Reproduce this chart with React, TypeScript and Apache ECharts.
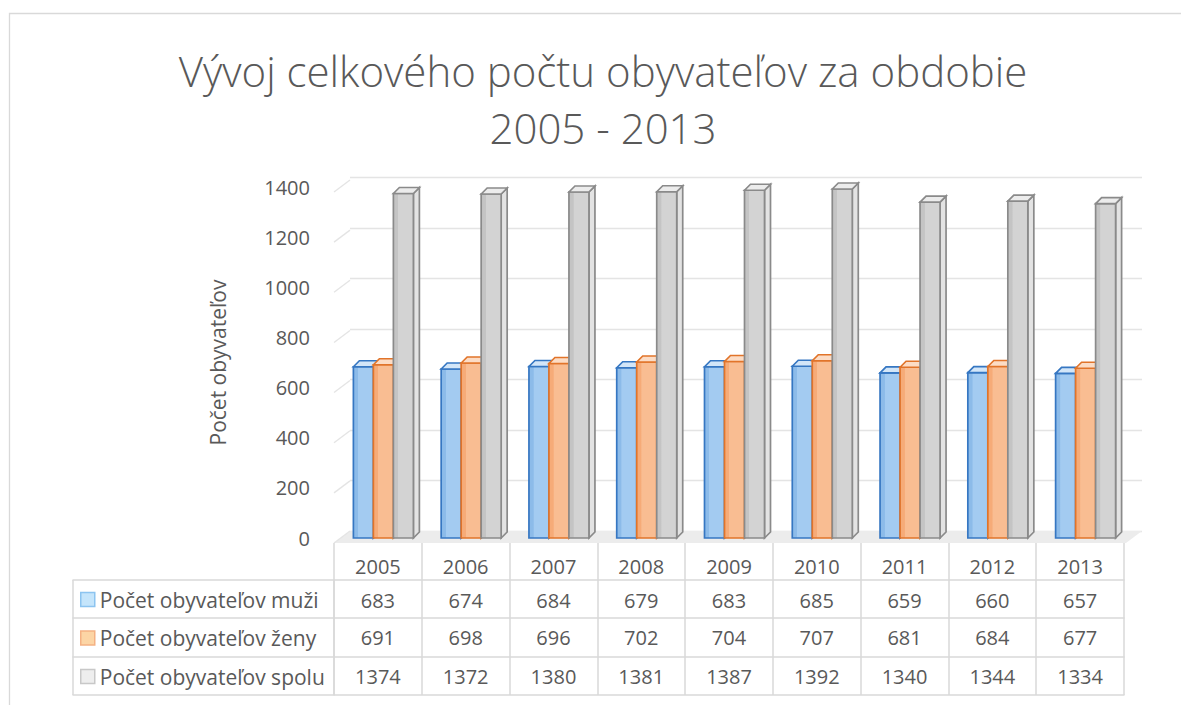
import React, { useEffect, useRef } from "react";
import * as echarts from "echarts";

const years = ["2005", "2006", "2007", "2008", "2009", "2010", "2011", "2012", "2013"];
const men = [683, 674, 684, 679, 683, 685, 659, 660, 657];
const women = [691, 698, 696, 702, 704, 707, 681, 684, 677];
const total = [1374, 1372, 1380, 1381, 1387, 1392, 1340, 1344, 1334];
const seriesNames = ["Počet obyvateľov muži", "Počet obyvateľov ženy", "Počet obyvateľov spolu"];
const yTicks = [0, 200, 400, 600, 800, 1000, 1200, 1400];

const FONT = "Open Sans";
const TXT = "#595959";
const LINE = "#d9d9d9";
const NUM_SIZE = 20;
const TEXT_SIZE = 21;

const barStyles = [
  { front: ["#8cbbe9", "#a3cbf1"], edge: "#3677c2", top: "#d3e6f8", side: "#b9d7f3", legendFill: "#c5e5fb", legendEdge: "#8cc4f0" },
  { front: ["#f6ab78", "#f9bd92"], edge: "#e1742a", top: "#fcdcc5", side: "#fac9a6", legendFill: "#fcd5a5", legendEdge: "#f4b183" },
  { front: ["#c4c4c4", "#d3d3d3"], edge: "#8a8a8a", top: "#ececec", side: "#e3e3e3", legendFill: "#eeeeee", legendEdge: "#c8c8c8" },
];

function makeBar(idx: number, data: number[]) {
  const st = barStyles[idx];
  return {
    type: "custom",
    name: seriesNames[idx],
    xAxisIndex: 0,
    yAxisIndex: 0,
    z: 5 + idx,
    itemStyle: { color: st.legendFill },
    data: data.map((v, i) => [i, v]),
    renderItem: (params: any, api: any) => {
      const c = api.coord([api.value(0), api.value(1)]);
      const b = api.coord([api.value(0), 0]);
      const w = 20;
      const x0 = c[0] - 24.5 + idx * 20;
      const top = c[1];
      const bot = b[1];
      const dx = 6;
      const dy = -6;
      return {
        type: "group",
        children: [
          {
            type: "polygon",
            shape: { points: [[x0 + w, top], [x0 + w + dx, top + dy], [x0 + w + dx, bot + dy], [x0 + w, bot]] },
            style: { fill: st.side, stroke: st.edge, lineWidth: 1.7 },
          },
          {
            type: "rect",
            shape: { x: x0, y: top, width: w, height: bot - top },
            style: {
              fill: {
                type: "linear", x: 0, y: 0, x2: 1, y2: 0,
                colorStops: [
                  { offset: 0, color: st.front[0] },
                  { offset: 0.22, color: st.front[0] },
                  { offset: 0.25, color: st.front[1] },
                  { offset: 1, color: st.front[1] },
                ],
              },
              stroke: st.edge,
              lineWidth: 1.7,
            },
          },
          {
            type: "polygon",
            shape: { points: [[x0, top], [x0 + dx, top + dy], [x0 + w + dx, top + dy], [x0 + w, top]] },
            style: { fill: st.top, stroke: st.edge, lineWidth: 1.7 },
          },
        ],
      };
    },
  };
}

const wallSeries = {
  type: "custom",
  name: "walls",
  xAxisIndex: 0,
  yAxisIndex: 0,
  z: 1,
  silent: true,
  data: yTicks.map((v) => [0, v]),
  renderItem: (params: any, api: any) => {
    const v = api.value(1);
    const band = api.size([1, 0])[0];
    const p = api.coord([0, v]);
    const pr = api.coord([years.length - 1, v]);
    const xl = p[0] - band / 2;
    const xr = pr[0] + band / 2;
    const y = p[1];
    const children: any[] = [
      {
        type: "line",
        shape: { x1: xl, y1: y + 5, x2: xl + 16, y2: y - 7 },
        style: { stroke: "#e4e4e4", lineWidth: 1.3 },
      },
    ];
    if (v === 0) {
      children.unshift({
        type: "polygon",
        shape: { points: [[xl, y + 5], [xl + 16, y - 7], [xr + 18, y - 7], [xr + 2, y + 5]] },
        style: { fill: "#ececec" },
      });
    }
    return { type: "group", children };
  },
};

function rowAxis(gridIndex: number, offset: number, values: (string | number)[] | null, tickLen: number, showLine: boolean, labelGap: number) {
  return {
    type: "category",
    gridIndex,
    position: "bottom",
    offset,
    data: gridIndex === 0 ? years : [""],
    boundaryGap: true,
    axisLine: { show: showLine, onZero: false, lineStyle: { color: LINE, width: 1.5 } },
    axisTick: { show: tickLen > 0, interval: 0, length: tickLen, lineStyle: { color: LINE, width: 1.5 } },
    axisLabel: {
      show: !!values,
      interval: 0,
      margin: labelGap,
      verticalAlign: "middle",
      color: TXT,
      fontFamily: FONT,
      fontSize: NUM_SIZE,
      formatter: (_v: string, i: number) => (values ? String(values[i]) : ""),
    },
    splitLine: { show: false },
  };
}

export default function App() {
  const ref = useRef<HTMLDivElement>(null);
  useEffect(() => {
    if (!ref.current) return;
    const chart = echarts.init(ref.current, undefined, { renderer: "svg" });
    const option: any = {
      animation: false,
      backgroundColor: "#ffffff",
      title: {
        text: "Vývoj celkového počtu obyvateľov za obdobie\n2005 - 2013",
        left: 598,
        top: 37,
        textAlign: "center",
        textStyle: { fontFamily: FONT, fontSize: 42, fontWeight: 300, color: TXT, lineHeight: 57 },
      },
      legend: {
        orient: "vertical",
        left: 80,
        top: 589,
        padding: 0,
        itemWidth: 14,
        itemHeight: 14,
        itemGap: 17.5,
        itemTextGap: 6,
        selectedMode: false,
        textStyle: { fontFamily: FONT, fontSize: TEXT_SIZE, color: TXT },
        data: seriesNames.map((n, i) => ({
          name: n,
          icon: "rect",
          itemStyle: { color: barStyles[i].legendFill, borderColor: barStyles[i].legendEdge, borderWidth: 1.5 },
        })),
      },
      graphic: [
        {
          type: "rect",
          shape: { x: 9.5, y: 13.5, width: 1400, height: 900 },
          style: { fill: "none", stroke: "#d9d9d9", lineWidth: 1.3 },
          silent: true,
        },
      ],
      grid: [
        { left: 334, top: 187, width: 790, height: 351 },
        { left: 350, top: 177.5, width: 792, height: 353.5 },
        { left: 73, top: 187, width: 261, height: 351 },
      ],
      xAxis: [
        rowAxis(0, 5, years, 37, false, 23),
        { type: "category", gridIndex: 1, data: years, show: false },
        rowAxis(0, 42, men, 38, true, 20),
        rowAxis(0, 80, women, 39, true, 19.5),
        rowAxis(0, 119, total, 38, true, 19),
        rowAxis(0, 157, null, 0, true, 0),
        rowAxis(2, 42, null, 38, true, 0),
        rowAxis(2, 80, null, 39, true, 0),
        rowAxis(2, 119, null, 38, true, 0),
        rowAxis(2, 157, null, 0, true, 0),
      ],
      yAxis: [
        {
          type: "value",
          gridIndex: 0,
          min: 0,
          max: 1400,
          interval: 200,
          name: "Počet obyvateľov",
          nameLocation: "middle",
          nameGap: 106,
          nameTextStyle: { fontFamily: FONT, fontSize: TEXT_SIZE, color: TXT },
          axisLine: { show: false },
          axisTick: { show: false },
          splitLine: { show: false },
          axisLabel: {
            color: TXT,
            fontFamily: FONT,
            fontSize: NUM_SIZE,
            margin: 24,
            formatter: (v: number) => String(v),
          },
        },
        {
          type: "value",
          gridIndex: 1,
          min: 0,
          max: 1400,
          interval: 200,
          axisLine: { show: false },
          axisTick: { show: false },
          axisLabel: { show: false },
          splitLine: { show: true, lineStyle: { color: "#e4e4e4", width: 1.3 } },
        },
        { type: "value", gridIndex: 2, show: false, min: 0, max: 1400 },
      ],
      series: [wallSeries, makeBar(0, men), makeBar(1, women), makeBar(2, total)],
    };
    chart.setOption(option);
    return () => chart.dispose();
  }, []);
  return <div ref={ref} style={{ position: "fixed", left: 0, top: 0, width: 1181, height: 705 }} />;
}
